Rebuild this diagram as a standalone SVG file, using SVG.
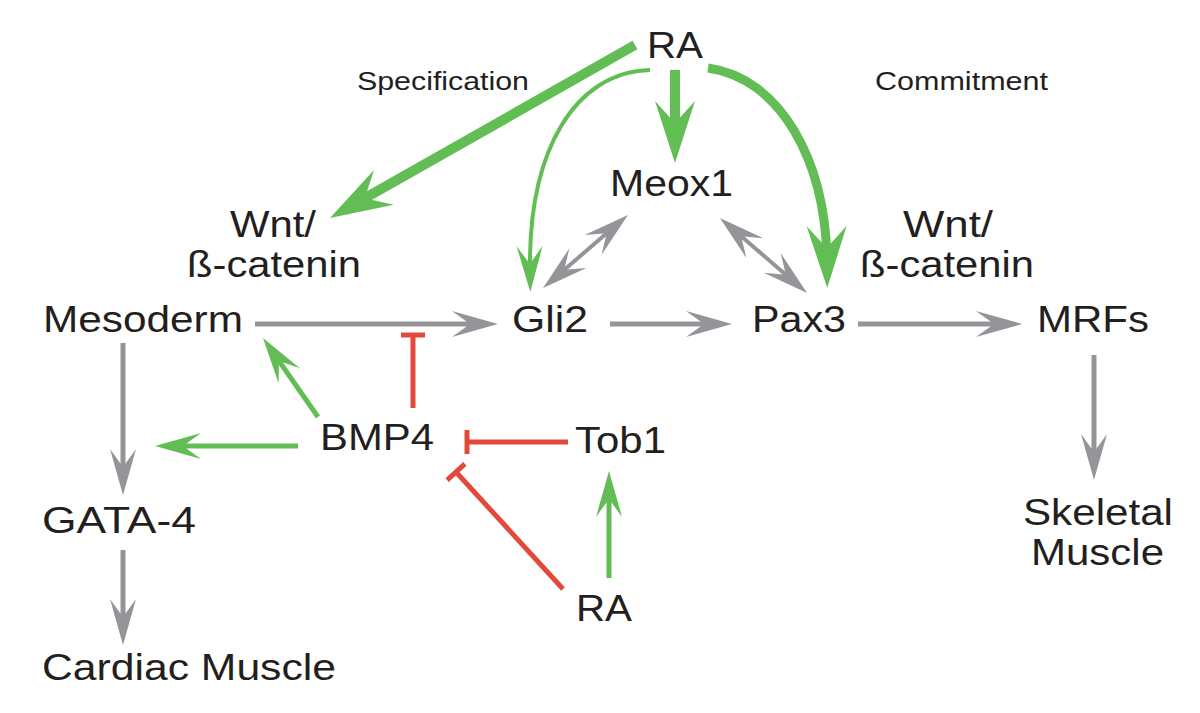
<svg xmlns="http://www.w3.org/2000/svg" width="1200" height="713" viewBox="0 0 1200 713">
<style>
.t{font-family:"Liberation Sans",Arial,Helvetica,sans-serif;font-size:37px;fill:#231f20}
.s{font-size:26px}
.gray{stroke:#939598;stroke-width:5;fill:none}
.grn{stroke:#62bd55;stroke-width:5;fill:none}
.grnb{stroke:#62bd55;stroke-width:10;fill:none}
.red{stroke:#e2493b;stroke-width:5;fill:none}
</style>
<defs>
<marker id="ahGray" markerUnits="userSpaceOnUse" viewBox="-50 -15 52 30" markerWidth="52" markerHeight="30" refX="-20" refY="0" orient="auto-start-reverse" overflow="visible"><path d="M0,0 L-46,-13 L-28,0 L-46,13 Z" fill="#939598"/></marker>
<marker id="ahGrn" markerUnits="userSpaceOnUse" viewBox="-50 -15 52 30" markerWidth="52" markerHeight="30" refX="-20" refY="0" orient="auto" overflow="visible"><path d="M0,0 L-46,-13 L-28,0 L-46,13 Z" fill="#62bd55"/></marker>
<marker id="ahGrnB" markerUnits="userSpaceOnUse" viewBox="-66 -22 68 44" markerWidth="68" markerHeight="44" refX="-25" refY="0" orient="auto" overflow="visible"><path d="M0,0 L-62,-20 L-40,0 L-62,20 Z" fill="#62bd55"/></marker>
<marker id="tee" markerUnits="userSpaceOnUse" viewBox="-3 -14 6 28" markerWidth="6" markerHeight="28" refX="0" refY="0" orient="auto" overflow="visible"><path d="M0,-12 L0,12" stroke="#e2493b" stroke-width="5"/></marker>
</defs>
<g id="connectors">
<line class="gray" x1="255" y1="324" x2="478" y2="324" marker-end="url(#ahGray)"/>
<line class="gray" x1="610" y1="324" x2="712" y2="324" marker-end="url(#ahGray)"/>
<line class="gray" x1="858" y1="324" x2="1002" y2="324" marker-end="url(#ahGray)"/>
<line class="gray" x1="1094" y1="355" x2="1094" y2="460" marker-end="url(#ahGray)"/>
<line class="gray" x1="123" y1="343" x2="123" y2="475" marker-end="url(#ahGray)"/>
<line class="gray" x1="123" y1="550" x2="123" y2="625" marker-end="url(#ahGray)"/>
<line class="gray" style="stroke-width:4" x1="612.8" y1="228" x2="558.2" y2="275" marker-start="url(#ahGray)" marker-end="url(#ahGray)"/>
<line class="gray" style="stroke-width:4" x1="735.1" y1="231.1" x2="791.9" y2="279.9" marker-start="url(#ahGray)" marker-end="url(#ahGray)"/>
<line class="grn" x1="298" y1="446" x2="175" y2="446" marker-end="url(#ahGrn)"/>
<line class="grn" x1="318" y1="417" x2="274.4" y2="354.4" marker-end="url(#ahGrn)"/>
<line class="grn" x1="609" y1="578" x2="609" y2="491" marker-end="url(#ahGrn)"/>
<path class="grn" style="stroke-width:4" d="M650,70 C575,72 528,150 530,272" marker-end="url(#ahGrn)"/>
<line class="grnb" x1="635" y1="45" x2="351.7" y2="205.7" marker-end="url(#ahGrnB)"/>
<line class="grnb" x1="675" y1="70" x2="675" y2="138" marker-end="url(#ahGrnB)"/>
<path class="grnb" style="stroke-width:9" d="M708,68 C780,78 826,160 827,263" marker-end="url(#ahGrnB)"/>
<line class="red" x1="413" y1="408" x2="413" y2="335" marker-end="url(#tee)"/>
<line class="red" x1="568" y1="442" x2="467" y2="442" marker-end="url(#tee)"/>
<line class="red" x1="563" y1="589" x2="456" y2="472" marker-end="url(#tee)"/>
</g>
<g id="ra-top"><text class="t" x="647" y="58" textLength="56" lengthAdjust="spacingAndGlyphs">RA</text></g>
<g id="specification"><text class="t s" x="357" y="90" textLength="172" lengthAdjust="spacingAndGlyphs">Specification</text></g>
<g id="commitment"><text class="t s" x="875" y="90" textLength="173" lengthAdjust="spacingAndGlyphs">Commitment</text></g>
<g id="meox1"><text class="t" x="610" y="196" textLength="123" lengthAdjust="spacingAndGlyphs">Meox1</text></g>
<g id="wnt-left"><text class="t" x="230" y="237" textLength="86" lengthAdjust="spacingAndGlyphs">Wnt/</text><text class="t" x="187" y="277" textLength="174" lengthAdjust="spacingAndGlyphs">ß-catenin</text></g>
<g id="wnt-right"><text class="t" x="903" y="237" textLength="90" lengthAdjust="spacingAndGlyphs">Wnt/</text><text class="t" x="860" y="277" textLength="174" lengthAdjust="spacingAndGlyphs">ß-catenin</text></g>
<g id="mesoderm"><text class="t" x="43" y="332" textLength="200" lengthAdjust="spacingAndGlyphs">Mesoderm</text></g>
<g id="gli2"><text class="t" x="512" y="332" textLength="76" lengthAdjust="spacingAndGlyphs">Gli2</text></g>
<g id="pax3"><text class="t" x="752" y="332" textLength="94" lengthAdjust="spacingAndGlyphs">Pax3</text></g>
<g id="mrfs"><text class="t" x="1037" y="332" textLength="112" lengthAdjust="spacingAndGlyphs">MRFs</text></g>
<g id="bmp4"><text class="t" x="320" y="450" textLength="114" lengthAdjust="spacingAndGlyphs">BMP4</text></g>
<g id="tob1"><text class="t" x="575" y="453" textLength="91" lengthAdjust="spacingAndGlyphs">Tob1</text></g>
<g id="ra-bottom"><text class="t" x="576" y="621" textLength="56" lengthAdjust="spacingAndGlyphs">RA</text></g>
<g id="gata4"><text class="t" x="42" y="533" textLength="154" lengthAdjust="spacingAndGlyphs">GATA-4</text></g>
<g id="cardiac-muscle"><text class="t" x="42" y="680" textLength="294" lengthAdjust="spacingAndGlyphs">Cardiac Muscle</text></g>
<g id="skeletal-muscle"><text class="t" x="1023" y="525" textLength="150" lengthAdjust="spacingAndGlyphs">Skeletal</text><text class="t" x="1031" y="565" textLength="133" lengthAdjust="spacingAndGlyphs">Muscle</text></g>
</svg>
